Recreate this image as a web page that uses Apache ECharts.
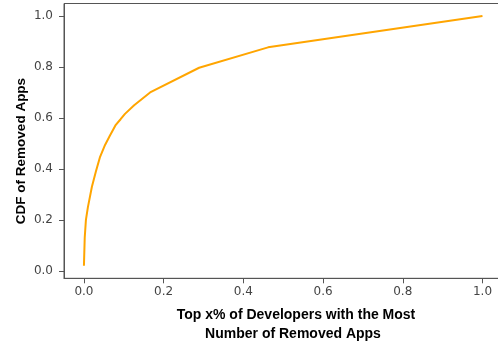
<!DOCTYPE html>
<html>
<head>
<meta charset="utf-8">
<script src="https://cdn.jsdelivr.net/npm/echarts@6/dist/echarts.min.js"></script>
<style>
  html, body { margin: 0; padding: 0; background: #fff; overflow: hidden; }
  #chart { width: 498px; height: 343px; }
</style>
</head>
<body>
<div id="chart"></div>
<script>
// Share of top developers (fraction) vs. cumulative share of removed apps
const topDevShare = [0, 0.002, 0.005, 0.01, 0.02, 0.03, 0.04, 0.053, 0.065, 0.08, 0.092, 0.103, 0.126, 0.166, 0.289, 0.462, 1.0];
const cdfRemoved  = [0.02, 0.13, 0.20, 0.25, 0.33, 0.39, 0.445, 0.494, 0.53, 0.573, 0.595, 0.616, 0.65, 0.70, 0.797, 0.877, 1.0];
const xTicks = [0, 0.2, 0.4, 0.6, 0.8, 1.0];
const yTicks = [0, 0.2, 0.4, 0.6, 0.8, 1.0];

const xTitle = ['Top x% of Developers with the Most', 'Number of Removed Apps'];
const yTitle = 'CDF of Removed Apps';

const chart = echarts.init(document.getElementById('chart'), null, { renderer: 'canvas' });

const tickFont = { fontFamily: 'DejaVu Sans', fontSize: 12, color: '#444' };
const xTitleFont = 'bold 14px "Liberation Sans", Arial, sans-serif';
const yTitleFont = 'bold 13.5px "Liberation Sans", Arial, sans-serif';

chart.setOption({
  animation: false,
  grid: {
    left: 64, width: 438.4, top: 3.5, height: 274.8,
    outerBoundsMode: 'none',
    containLabel: false,
    show: true, borderColor: '#555', borderWidth: 1
  },
  xAxis: {
    type: 'value', min: -0.05, max: 1.05,
    splitLine: { show: false },
    axisLine: { show: true, onZero: false, lineStyle: { color: '#555' } },
    axisTick: { show: true, length: 5, lineStyle: { color: '#555' }, customValues: xTicks },
    axisLabel: Object.assign({
      margin: 8,
      customValues: xTicks,
      formatter: v => v.toFixed(1)
    }, tickFont)
  },
  yAxis: {
    type: 'value', min: -0.029, max: 1.049,
    splitLine: { show: false },
    axisLine: { show: true, onZero: false, lineStyle: { color: '#555' } },
    axisTick: { show: true, length: 5, lineStyle: { color: '#555' }, customValues: yTicks },
    axisLabel: Object.assign({
      margin: 11,
      customValues: yTicks,
      formatter: v => v.toFixed(1)
    }, tickFont)
  },
  series: [{
    type: 'line',
    data: topDevShare.map((x, i) => [x, cdfRemoved[i]]),
    showSymbol: false,
    lineStyle: { color: '#FFA500', width: 2 },
    clip: false
  }],
  graphic: [
    {
      type: 'text', x: 296, y: 315,
      style: { text: xTitle[0], font: xTitleFont, fill: '#000', align: 'center', verticalAlign: 'middle' }
    },
    {
      type: 'text', x: 293, y: 334,
      style: { text: xTitle[1], font: xTitleFont, fill: '#000', align: 'center', verticalAlign: 'middle' }
    },
    {
      type: 'text', x: 21, y: 151, rotation: Math.PI / 2,
      style: { text: yTitle, font: yTitleFont, fill: '#000', align: 'center', verticalAlign: 'middle' }
    }
  ]
});
</script>
</body>
</html>
